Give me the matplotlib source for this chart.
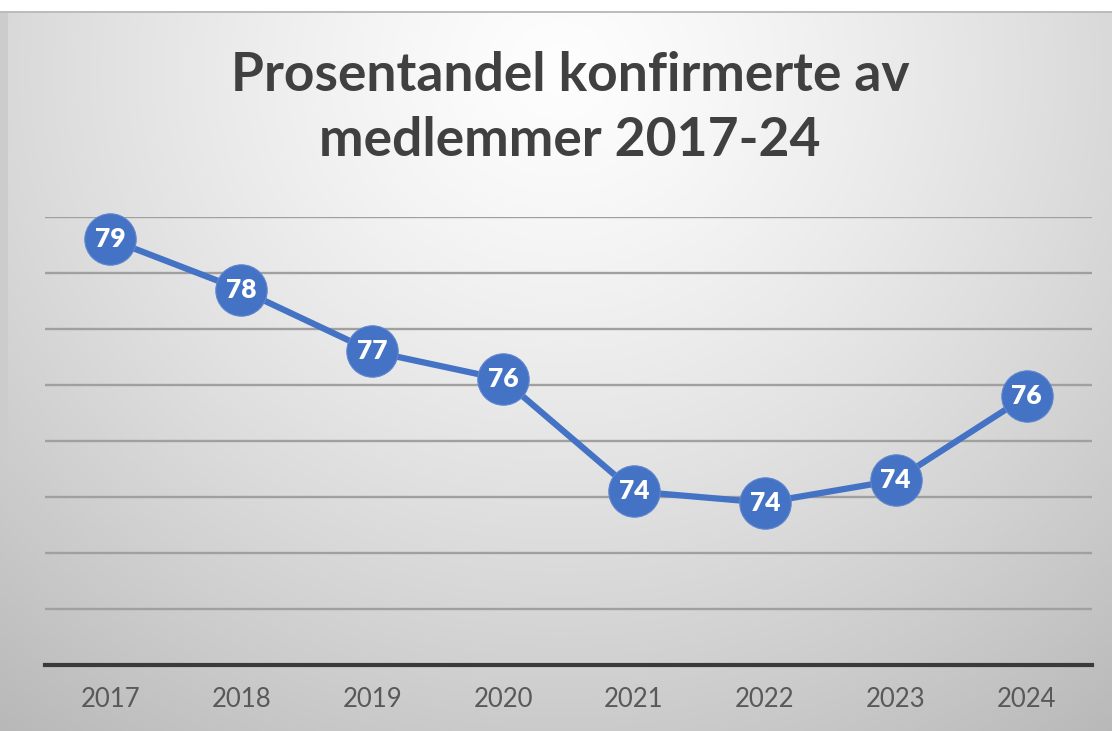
import numpy as np
import matplotlib

matplotlib.use("Agg")
import matplotlib.pyplot as plt


years = ["2017", "2018", "2019", "2020", "2021", "2022", "2023", "2024"]
share = [78.6, 77.7, 76.6, 76.1, 74.1, 73.9, 74.3, 75.8]
y_min, y_max = 71, 79

TITLE = "Prosentandel konfirmerte av\nmedlemmer 2017-24"
BLUE = "#4472C4"
W, H = 1112, 731


def background(fig):
    # radial grey gradient like the Office chart fill
    bg = fig.add_axes([0, 0, 1, 1], zorder=-10)
    yy, xx = np.mgrid[0:H, 0:W]
    r = np.sqrt(((xx - 560) / 820.0) ** 2 + ((yy - 70) / 760.0) ** 2)
    val = np.clip(0.995 - 0.24 * np.clip(r, 0, 1.3) ** 1.3, 0, 1)
    val[11:13, :] = 0.74
    val[:, :8] = np.minimum(val[:, :8], 0.80)
    val[:11, :] = 1.0
    img = np.dstack([val, val, val])
    bg.imshow(img, aspect="auto", extent=[0, 1, 0, 1], origin="upper")
    bg.axis("off")


def main():
    plt.rcParams["font.family"] = ["Lato", "DejaVu Sans"]
    fig = plt.figure(figsize=(W / 100, H / 100), dpi=100)
    background(fig)

    ax = fig.add_axes([45 / W, 1 - 665 / H, (1092 - 45) / W, (665 - 217) / H])
    ax.patch.set_alpha(0)
    x = np.arange(len(years))
    ax.plot(x, share, color=BLUE, lw=4.5, zorder=3, solid_capstyle="round")
    ax.plot(x, share, "o", ms=37, color=BLUE, mec="#5f86cf", mew=0.8, zorder=4, clip_on=False)
    for xi, v in zip(x, share):
        ax.text(xi, v, f"{v:.0f}", color="white", fontsize=19, fontweight="heavy",
                ha="center", va="center", zorder=5)

    ax.set_xlim(-0.5, len(years) - 0.5)
    ax.set_ylim(y_min, y_max)
    ax.set_yticks(np.arange(y_min, y_max + 1))
    ax.yaxis.grid(True, color="#a0a0a0", lw=1.7)
    ax.set_axisbelow(True)
    ax.set_yticklabels([])
    ax.tick_params(axis="y", length=0)
    ax.set_xticks(x)
    ax.set_xticklabels(years, fontsize=18.5, color="#595959")
    ax.tick_params(axis="x", length=0, pad=16)
    for s in ["top", "left", "right"]:
        ax.spines[s].set_visible(False)
    ax.spines["bottom"].set_color("#3a3a3a")
    ax.spines["bottom"].set_linewidth(3)

    fig.text(570 / W, 1 - 108 / H, TITLE, ha="center", va="center", fontsize=38.4,
             fontweight="bold", color="#404040", linespacing=1.42)

    fig.savefig("out.png", dpi=100)
    plt.close(fig)


if __name__ == "__main__":
    main()
